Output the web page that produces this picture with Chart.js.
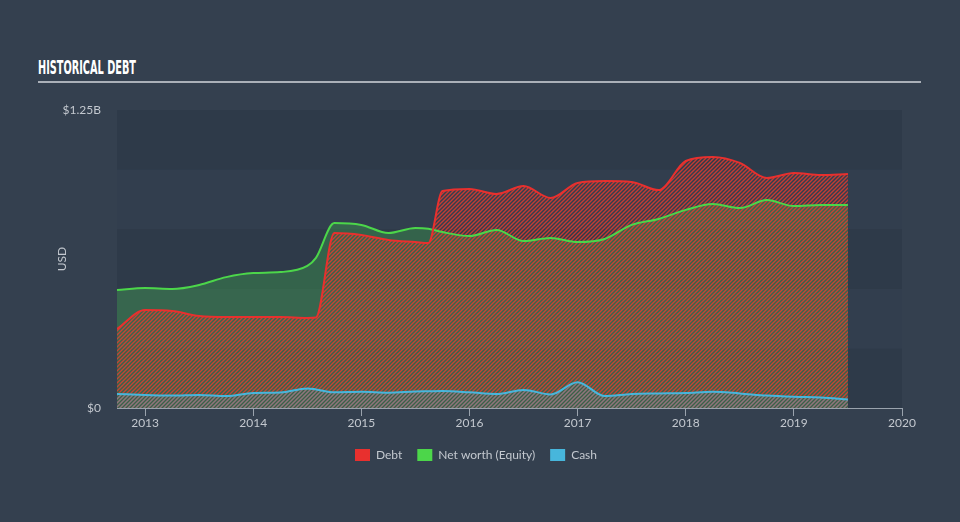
<!DOCTYPE html>
<html>
<head>
<title>Historical Debt</title>
<script src="https://cdn.jsdelivr.net/npm/chart.js@4.4.0/dist/chart.umd.min.js"></script>
<style>
body{margin:0;background:#34404f;width:960px;height:522px;overflow:hidden;position:relative;}
#ttl{position:absolute;left:38px;top:56px;color:#fff;font:bold 19px "DejaVu Sans Condensed","Liberation Sans Narrow",sans-serif;transform:scaleX(0.57);transform-origin:0 0;white-space:nowrap;}
#rule{position:absolute;left:38px;top:81px;width:883px;height:2px;background:#aab0b8;}
#c{position:absolute;left:0;top:0;}
</style>
</head>
<body>
<div id="ttl">HISTORICAL DEBT</div>
<div id="rule"></div>
<canvas id="c" width="960" height="522"></canvas>
<script>
// values in billions of USD
var years  = [2012.74, 2013, 2013.25, 2013.5, 2013.75, 2014, 2014.25, 2014.5, 2014.58, 2014.75, 2015, 2015.25, 2015.5, 2015.62, 2015.75, 2016, 2016.25, 2016.5, 2016.75, 2017, 2017.25, 2017.5, 2017.75, 2018, 2018.25, 2018.5, 2018.75, 2019, 2019.25, 2019.5];
var debt   = [0.331, 0.411, 0.407, 0.386, 0.382, 0.382, 0.382, 0.378, 0.380, 0.734, 0.726, 0.705, 0.696, 0.692, 0.910, 0.919, 0.898, 0.931, 0.881, 0.944, 0.952, 0.948, 0.914, 1.036, 1.053, 1.028, 0.965, 0.986, 0.977, 0.982];
var equity = [0.495, 0.503, 0.499, 0.516, 0.549, 0.566, 0.570, 0.596, 0.630, 0.776, 0.768, 0.734, 0.755, 0.752, 0.738, 0.721, 0.747, 0.700, 0.713, 0.696, 0.709, 0.768, 0.793, 0.831, 0.856, 0.839, 0.872, 0.847, 0.852, 0.852];
var cash   = [0.059, 0.055, 0.052, 0.055, 0.050, 0.063, 0.065, 0.082, 0.078, 0.066, 0.068, 0.064, 0.069, 0.070, 0.071, 0.066, 0.059, 0.076, 0.057, 0.108, 0.050, 0.059, 0.061, 0.063, 0.068, 0.061, 0.052, 0.047, 0.044, 0.036];
var xTicks = [2013, 2014, 2015, 2016, 2017, 2018, 2019, 2020];
var yTicks = [0, 1.25];
var bandSteps = [0, 0.25, 0.5, 0.75, 1, 1.25];

function pts(arr){
  return arr.map(function(v, i){ return {x: years[i], y: v}; });
}

function stripes(color){
  var c = document.createElement('canvas');
  c.width = 4; c.height = 4;
  var g = c.getContext('2d');
  g.strokeStyle = color;
  g.lineWidth = 1.4;
  g.beginPath();
  g.moveTo(0,4); g.lineTo(4,0);
  g.moveTo(-1,1); g.lineTo(1,-1);
  g.moveTo(3,5); g.lineTo(5,3);
  g.stroke();
  return g.createPattern(c, 'repeat');
}

// alternating horizontal bands behind the plot
var bands = {
  id: 'bands',
  beforeDraw: function(chart){
    var a = chart.chartArea, y = chart.scales.y, g = chart.ctx;
    g.save();
    for (var i = 0; i < bandSteps.length - 1; i++){
      var t = y.getPixelForValue(bandSteps[i+1]), b = y.getPixelForValue(bandSteps[i]);
      g.fillStyle = (i % 2 == 0) ? '#2e3a49' : '#323e4e';
      g.fillRect(a.left, t, a.right - a.left, b - t);
    }
    g.restore();
  }
};

Chart.defaults.font.family = 'Lato';
Chart.defaults.font.size = 12;
Chart.defaults.color = '#c3c8cf';

var chart = new Chart(document.getElementById('c').getContext('2d'), {
  type: 'line',
  data: {
    datasets: [
      {label: 'Debt', data: pts(debt), borderColor: '#e8302e', backgroundColor: stripes('rgba(232,60,46,0.8)'), fill: 'origin', order: 1},
      {label: 'Net worth (Equity)', data: pts(equity), borderColor: '#4cd64a', backgroundColor: 'rgba(72,210,80,0.27)', fill: 'origin', order: 2},
      {label: 'Cash', data: pts(cash), borderColor: '#47b6dc', backgroundColor: stripes('rgba(71,182,220,0.45)'), fill: 'origin', order: 0}
    ]
  },
  options: {
    responsive: false,
    animation: false,
    layout: {padding: {left: 50, right: 58, top: 110, bottom: 51}},
    elements: {point: {radius: 0}, line: {borderWidth: 2, cubicInterpolationMode: 'monotone'}},
    plugins: {
      filler: {drawTime: 'beforeDatasetsDraw'},
      tooltip: {enabled: false},
      legend: {
        position: 'bottom',
        labels: {
          boxWidth: 15, boxHeight: 12, padding: 15, color: '#c3c8cf',
          sort: function(a, b){ return a.datasetIndex - b.datasetIndex; },
          generateLabels: function(ch){
            return Chart.defaults.plugins.legend.labels.generateLabels(ch).map(function(l){
              var ds = ch.data.datasets[l.datasetIndex];
              l.fillStyle = ds.borderColor; l.strokeStyle = ds.borderColor; l.lineWidth = 0;
              return l;
            });
          }
        }
      }
    },
    scales: {
      x: {
        type: 'linear', min: 2012.74, max: 2020,
        afterBuildTicks: function(s){ s.ticks = xTicks.map(function(v){ return {value: v}; }); },
        afterFit: function(s){ s.height = 26; },
        grid: {drawOnChartArea: false, drawTicks: true, tickLength: 8, color: '#9aa3ad'},
        border: {color: '#9aa3ad', width: 1},
        ticks: {padding: 0, maxRotation: 0, callback: function(v){ return String(v); }}
      },
      y: {
        min: 0, max: 1.25,
        afterBuildTicks: function(s){ s.ticks = yTicks.map(function(v){ return {value: v}; }); },
        afterFit: function(s){ s.width = 67; },
        grid: {display: false},
        border: {display: false},
        title: {display: true, text: 'USD', padding: {top: 5, bottom: 0}},
        ticks: {padding: 8, callback: function(v){ return v == 0 ? '$0' : '$' + v + 'B'; }}
      }
    }
  },
  plugins: [bands]
});
</script>
</body>
</html>
